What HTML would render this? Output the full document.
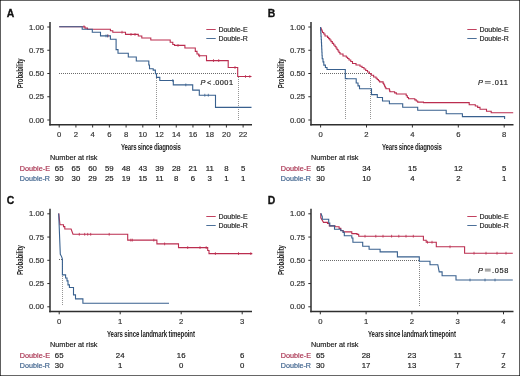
<!DOCTYPE html>
<html><head><meta charset="utf-8"><style>
html,body{margin:0;padding:0;background:#fff;width:520px;height:376px;overflow:hidden;font-family:"Liberation Sans", sans-serif;}
</style></head><body>
<svg width="520" height="376" viewBox="0 0 520 376" style="position:absolute;left:0;top:0;will-change:transform">
<rect x="0" y="0" width="520" height="376" fill="#fff"/>
<g font-family='"Liberation Sans", sans-serif'>
<text x="6.70" y="16.60" font-size="10.4" font-weight="bold" fill="#111" stroke="#111" stroke-width="0.3">A</text>
<path d="M50.00 22.00 V125.40" fill="none" stroke="#2e2e2e" stroke-width="1.50" />
<path d="M49.25 124.70 H252.00" fill="none" stroke="#2e2e2e" stroke-width="1.40" />
<path d="M47.30 27.00 H50.00" fill="none" stroke="#2e2e2e" stroke-width="1.00" />
<text x="44.00" y="29.50" font-size="7.70" text-anchor="end" fill="#333333" stroke="#333333" stroke-width="0.18" >1.00</text>
<path d="M47.30 50.25 H50.00" fill="none" stroke="#2e2e2e" stroke-width="1.00" />
<text x="44.00" y="52.75" font-size="7.70" text-anchor="end" fill="#333333" stroke="#333333" stroke-width="0.18" >0.75</text>
<path d="M47.30 73.50 H50.00" fill="none" stroke="#2e2e2e" stroke-width="1.00" />
<text x="44.00" y="76.00" font-size="7.70" text-anchor="end" fill="#333333" stroke="#333333" stroke-width="0.18" >0.50</text>
<path d="M47.30 96.75 H50.00" fill="none" stroke="#2e2e2e" stroke-width="1.00" />
<text x="44.00" y="99.25" font-size="7.70" text-anchor="end" fill="#333333" stroke="#333333" stroke-width="0.18" >0.25</text>
<path d="M47.30 120.00 H50.00" fill="none" stroke="#2e2e2e" stroke-width="1.00" />
<text x="44.00" y="122.50" font-size="7.70" text-anchor="end" fill="#333333" stroke="#333333" stroke-width="0.18" >0.00</text>
<path d="M59.20 124.70 V127.50" fill="none" stroke="#2e2e2e" stroke-width="1.00" />
<text x="59.20" y="137.00" font-size="7.70" text-anchor="middle" fill="#333333" stroke="#333333" stroke-width="0.18" >0</text>
<path d="M75.92 124.70 V127.50" fill="none" stroke="#2e2e2e" stroke-width="1.00" />
<text x="75.92" y="137.00" font-size="7.70" text-anchor="middle" fill="#333333" stroke="#333333" stroke-width="0.18" >2</text>
<path d="M92.64 124.70 V127.50" fill="none" stroke="#2e2e2e" stroke-width="1.00" />
<text x="92.64" y="137.00" font-size="7.70" text-anchor="middle" fill="#333333" stroke="#333333" stroke-width="0.18" >4</text>
<path d="M109.36 124.70 V127.50" fill="none" stroke="#2e2e2e" stroke-width="1.00" />
<text x="109.36" y="137.00" font-size="7.70" text-anchor="middle" fill="#333333" stroke="#333333" stroke-width="0.18" >6</text>
<path d="M126.08 124.70 V127.50" fill="none" stroke="#2e2e2e" stroke-width="1.00" />
<text x="126.08" y="137.00" font-size="7.70" text-anchor="middle" fill="#333333" stroke="#333333" stroke-width="0.18" >8</text>
<path d="M142.80 124.70 V127.50" fill="none" stroke="#2e2e2e" stroke-width="1.00" />
<text x="142.80" y="137.00" font-size="7.70" text-anchor="middle" fill="#333333" stroke="#333333" stroke-width="0.18" >10</text>
<path d="M159.52 124.70 V127.50" fill="none" stroke="#2e2e2e" stroke-width="1.00" />
<text x="159.52" y="137.00" font-size="7.70" text-anchor="middle" fill="#333333" stroke="#333333" stroke-width="0.18" >12</text>
<path d="M176.24 124.70 V127.50" fill="none" stroke="#2e2e2e" stroke-width="1.00" />
<text x="176.24" y="137.00" font-size="7.70" text-anchor="middle" fill="#333333" stroke="#333333" stroke-width="0.18" >14</text>
<path d="M192.96 124.70 V127.50" fill="none" stroke="#2e2e2e" stroke-width="1.00" />
<text x="192.96" y="137.00" font-size="7.70" text-anchor="middle" fill="#333333" stroke="#333333" stroke-width="0.18" >16</text>
<path d="M209.68 124.70 V127.50" fill="none" stroke="#2e2e2e" stroke-width="1.00" />
<text x="209.68" y="137.00" font-size="7.70" text-anchor="middle" fill="#333333" stroke="#333333" stroke-width="0.18" >18</text>
<path d="M226.40 124.70 V127.50" fill="none" stroke="#2e2e2e" stroke-width="1.00" />
<text x="226.40" y="137.00" font-size="7.70" text-anchor="middle" fill="#333333" stroke="#333333" stroke-width="0.18" >20</text>
<path d="M243.12 124.70 V127.50" fill="none" stroke="#2e2e2e" stroke-width="1.00" />
<text x="243.12" y="137.00" font-size="7.70" text-anchor="middle" fill="#333333" stroke="#333333" stroke-width="0.18" >22</text>
<g transform="translate(151.00 150.30) scale(0.620 1)"><text x="0" y="0" font-size="9.80" font-weight="bold" text-anchor="middle" fill="#262626" textLength="96.77" lengthAdjust="spacing">Years since diagnosis</text></g>
<g transform="translate(23.30 73.30) rotate(-90) scale(0.620 1)"><text x="0" y="0" font-size="9.80" font-weight="bold" text-anchor="middle" fill="#262626" textLength="48.39" lengthAdjust="spacing">Probability</text></g>
<path d="M206.30 29.50 H215.70" fill="none" stroke="#bb2d4f" stroke-width="1.00" stroke-opacity="0.9"/>
<path d="M206.30 38.50 H215.70" fill="none" stroke="#38608e" stroke-width="1.00" stroke-opacity="0.9"/>
<text x="218.40" y="31.80" font-size="7.20" text-anchor="start" fill="#222" stroke="#222" stroke-width="0.18" textLength="29.2" lengthAdjust="spacingAndGlyphs">Double-E</text>
<text x="218.40" y="41.00" font-size="7.20" text-anchor="start" fill="#222" stroke="#222" stroke-width="0.18" textLength="29.4" lengthAdjust="spacingAndGlyphs">Double-R</text>
<text x="50.00" y="160.20" font-size="7.30" text-anchor="start" fill="#222" stroke="#222" stroke-width="0.18" >Number at risk</text>
<text x="19.80" y="170.80" font-size="7.90" text-anchor="start" fill="#a8304f" stroke="#a8304f" stroke-width="0.18" textLength="30.2" lengthAdjust="spacingAndGlyphs">Double-E</text>
<text x="19.80" y="180.80" font-size="7.90" text-anchor="start" fill="#3a5f8a" stroke="#3a5f8a" stroke-width="0.18" textLength="30.2" lengthAdjust="spacingAndGlyphs">Double-R</text>
<text x="59.20" y="170.80" font-size="7.80" text-anchor="middle" fill="#222" stroke="#222" stroke-width="0.18" >65</text>
<text x="59.20" y="180.80" font-size="7.80" text-anchor="middle" fill="#222" stroke="#222" stroke-width="0.18" >30</text>
<text x="75.92" y="170.80" font-size="7.80" text-anchor="middle" fill="#222" stroke="#222" stroke-width="0.18" >65</text>
<text x="75.92" y="180.80" font-size="7.80" text-anchor="middle" fill="#222" stroke="#222" stroke-width="0.18" >30</text>
<text x="92.64" y="170.80" font-size="7.80" text-anchor="middle" fill="#222" stroke="#222" stroke-width="0.18" >60</text>
<text x="92.64" y="180.80" font-size="7.80" text-anchor="middle" fill="#222" stroke="#222" stroke-width="0.18" >29</text>
<text x="109.36" y="170.80" font-size="7.80" text-anchor="middle" fill="#222" stroke="#222" stroke-width="0.18" >59</text>
<text x="109.36" y="180.80" font-size="7.80" text-anchor="middle" fill="#222" stroke="#222" stroke-width="0.18" >25</text>
<text x="126.08" y="170.80" font-size="7.80" text-anchor="middle" fill="#222" stroke="#222" stroke-width="0.18" >48</text>
<text x="126.08" y="180.80" font-size="7.80" text-anchor="middle" fill="#222" stroke="#222" stroke-width="0.18" >19</text>
<text x="142.80" y="170.80" font-size="7.80" text-anchor="middle" fill="#222" stroke="#222" stroke-width="0.18" >43</text>
<text x="142.80" y="180.80" font-size="7.80" text-anchor="middle" fill="#222" stroke="#222" stroke-width="0.18" >15</text>
<text x="159.52" y="170.80" font-size="7.80" text-anchor="middle" fill="#222" stroke="#222" stroke-width="0.18" >39</text>
<text x="159.52" y="180.80" font-size="7.80" text-anchor="middle" fill="#222" stroke="#222" stroke-width="0.18" >11</text>
<text x="176.24" y="170.80" font-size="7.80" text-anchor="middle" fill="#222" stroke="#222" stroke-width="0.18" >28</text>
<text x="176.24" y="180.80" font-size="7.80" text-anchor="middle" fill="#222" stroke="#222" stroke-width="0.18" >8</text>
<text x="192.96" y="170.80" font-size="7.80" text-anchor="middle" fill="#222" stroke="#222" stroke-width="0.18" >21</text>
<text x="192.96" y="180.80" font-size="7.80" text-anchor="middle" fill="#222" stroke="#222" stroke-width="0.18" >6</text>
<text x="209.68" y="170.80" font-size="7.80" text-anchor="middle" fill="#222" stroke="#222" stroke-width="0.18" >11</text>
<text x="209.68" y="180.80" font-size="7.80" text-anchor="middle" fill="#222" stroke="#222" stroke-width="0.18" >3</text>
<text x="226.40" y="170.80" font-size="7.80" text-anchor="middle" fill="#222" stroke="#222" stroke-width="0.18" >8</text>
<text x="226.40" y="180.80" font-size="7.80" text-anchor="middle" fill="#222" stroke="#222" stroke-width="0.18" >1</text>
<text x="243.12" y="170.80" font-size="7.80" text-anchor="middle" fill="#222" stroke="#222" stroke-width="0.18" >5</text>
<text x="243.12" y="180.80" font-size="7.80" text-anchor="middle" fill="#222" stroke="#222" stroke-width="0.18" >1</text>
<text y="84.80" font-size="7.4" fill="#222" stroke="#222" stroke-width="0.18"><tspan x="200.40" font-style="italic">P</tspan><tspan x="206.90">&lt;</tspan></text>
<text x="212.90" y="84.80" font-size="7.4" fill="#222" stroke="#222" stroke-width="0.18" textLength="20.10" lengthAdjust="spacing">.0001</text>
<text x="267.70" y="16.60" font-size="10.4" font-weight="bold" fill="#111" stroke="#111" stroke-width="0.3">B</text>
<path d="M311.00 22.00 V125.40" fill="none" stroke="#2e2e2e" stroke-width="1.50" />
<path d="M310.25 124.70 H513.50" fill="none" stroke="#2e2e2e" stroke-width="1.40" />
<path d="M308.30 27.00 H311.00" fill="none" stroke="#2e2e2e" stroke-width="1.00" />
<text x="305.00" y="29.50" font-size="7.70" text-anchor="end" fill="#333333" stroke="#333333" stroke-width="0.18" >1.00</text>
<path d="M308.30 50.25 H311.00" fill="none" stroke="#2e2e2e" stroke-width="1.00" />
<text x="305.00" y="52.75" font-size="7.70" text-anchor="end" fill="#333333" stroke="#333333" stroke-width="0.18" >0.75</text>
<path d="M308.30 73.50 H311.00" fill="none" stroke="#2e2e2e" stroke-width="1.00" />
<text x="305.00" y="76.00" font-size="7.70" text-anchor="end" fill="#333333" stroke="#333333" stroke-width="0.18" >0.50</text>
<path d="M308.30 96.75 H311.00" fill="none" stroke="#2e2e2e" stroke-width="1.00" />
<text x="305.00" y="99.25" font-size="7.70" text-anchor="end" fill="#333333" stroke="#333333" stroke-width="0.18" >0.25</text>
<path d="M308.30 120.00 H311.00" fill="none" stroke="#2e2e2e" stroke-width="1.00" />
<text x="305.00" y="122.50" font-size="7.70" text-anchor="end" fill="#333333" stroke="#333333" stroke-width="0.18" >0.00</text>
<path d="M320.60 124.70 V127.50" fill="none" stroke="#2e2e2e" stroke-width="1.00" />
<text x="320.60" y="137.00" font-size="7.70" text-anchor="middle" fill="#333333" stroke="#333333" stroke-width="0.18" >0</text>
<path d="M366.50 124.70 V127.50" fill="none" stroke="#2e2e2e" stroke-width="1.00" />
<text x="366.50" y="137.00" font-size="7.70" text-anchor="middle" fill="#333333" stroke="#333333" stroke-width="0.18" >2</text>
<path d="M412.40 124.70 V127.50" fill="none" stroke="#2e2e2e" stroke-width="1.00" />
<text x="412.40" y="137.00" font-size="7.70" text-anchor="middle" fill="#333333" stroke="#333333" stroke-width="0.18" >4</text>
<path d="M458.30 124.70 V127.50" fill="none" stroke="#2e2e2e" stroke-width="1.00" />
<text x="458.30" y="137.00" font-size="7.70" text-anchor="middle" fill="#333333" stroke="#333333" stroke-width="0.18" >6</text>
<path d="M504.20 124.70 V127.50" fill="none" stroke="#2e2e2e" stroke-width="1.00" />
<text x="504.20" y="137.00" font-size="7.70" text-anchor="middle" fill="#333333" stroke="#333333" stroke-width="0.18" >8</text>
<g transform="translate(412.00 150.30) scale(0.620 1)"><text x="0" y="0" font-size="9.80" font-weight="bold" text-anchor="middle" fill="#262626" textLength="96.77" lengthAdjust="spacing">Years since diagnosis</text></g>
<g transform="translate(284.30 73.30) rotate(-90) scale(0.620 1)"><text x="0" y="0" font-size="9.80" font-weight="bold" text-anchor="middle" fill="#262626" textLength="48.39" lengthAdjust="spacing">Probability</text></g>
<path d="M467.30 29.50 H476.70" fill="none" stroke="#bb2d4f" stroke-width="1.00" stroke-opacity="0.9"/>
<path d="M467.30 38.50 H476.70" fill="none" stroke="#38608e" stroke-width="1.00" stroke-opacity="0.9"/>
<text x="479.40" y="31.80" font-size="7.20" text-anchor="start" fill="#222" stroke="#222" stroke-width="0.18" textLength="29.2" lengthAdjust="spacingAndGlyphs">Double-E</text>
<text x="479.40" y="41.00" font-size="7.20" text-anchor="start" fill="#222" stroke="#222" stroke-width="0.18" textLength="29.4" lengthAdjust="spacingAndGlyphs">Double-R</text>
<text x="311.00" y="160.20" font-size="7.30" text-anchor="start" fill="#222" stroke="#222" stroke-width="0.18" >Number at risk</text>
<text x="280.80" y="170.80" font-size="7.90" text-anchor="start" fill="#a8304f" stroke="#a8304f" stroke-width="0.18" textLength="30.2" lengthAdjust="spacingAndGlyphs">Double-E</text>
<text x="280.80" y="180.80" font-size="7.90" text-anchor="start" fill="#3a5f8a" stroke="#3a5f8a" stroke-width="0.18" textLength="30.2" lengthAdjust="spacingAndGlyphs">Double-R</text>
<text x="320.60" y="170.80" font-size="7.80" text-anchor="middle" fill="#222" stroke="#222" stroke-width="0.18" >65</text>
<text x="320.60" y="180.80" font-size="7.80" text-anchor="middle" fill="#222" stroke="#222" stroke-width="0.18" >30</text>
<text x="366.50" y="170.80" font-size="7.80" text-anchor="middle" fill="#222" stroke="#222" stroke-width="0.18" >34</text>
<text x="366.50" y="180.80" font-size="7.80" text-anchor="middle" fill="#222" stroke="#222" stroke-width="0.18" >10</text>
<text x="412.40" y="170.80" font-size="7.80" text-anchor="middle" fill="#222" stroke="#222" stroke-width="0.18" >15</text>
<text x="412.40" y="180.80" font-size="7.80" text-anchor="middle" fill="#222" stroke="#222" stroke-width="0.18" >4</text>
<text x="458.30" y="170.80" font-size="7.80" text-anchor="middle" fill="#222" stroke="#222" stroke-width="0.18" >12</text>
<text x="458.30" y="180.80" font-size="7.80" text-anchor="middle" fill="#222" stroke="#222" stroke-width="0.18" >2</text>
<text x="504.20" y="170.80" font-size="7.80" text-anchor="middle" fill="#222" stroke="#222" stroke-width="0.18" >5</text>
<text x="504.20" y="180.80" font-size="7.80" text-anchor="middle" fill="#222" stroke="#222" stroke-width="0.18" >1</text>
<text y="84.80" font-size="7.4" fill="#222" stroke="#222" stroke-width="0.18"><tspan x="478.00" font-style="italic">P</tspan></text>
<path d="M484.90 81.50 H490.70 M484.90 83.20 H490.70" fill="none" stroke="#444" stroke-width="0.75" />
<text x="492.00" y="84.80" font-size="7.4" fill="#222" stroke="#222" stroke-width="0.18" textLength="15.90" lengthAdjust="spacing">.011</text>
<text x="6.70" y="204.20" font-size="10.4" font-weight="bold" fill="#111" stroke="#111" stroke-width="0.3">C</text>
<path d="M50.00 208.80 V312.20" fill="none" stroke="#2e2e2e" stroke-width="1.50" />
<path d="M49.25 311.50 H252.00" fill="none" stroke="#2e2e2e" stroke-width="1.40" />
<path d="M47.30 213.80 H50.00" fill="none" stroke="#2e2e2e" stroke-width="1.00" />
<text x="44.00" y="216.30" font-size="7.70" text-anchor="end" fill="#333333" stroke="#333333" stroke-width="0.18" >1.00</text>
<path d="M47.30 237.05 H50.00" fill="none" stroke="#2e2e2e" stroke-width="1.00" />
<text x="44.00" y="239.55" font-size="7.70" text-anchor="end" fill="#333333" stroke="#333333" stroke-width="0.18" >0.75</text>
<path d="M47.30 260.30 H50.00" fill="none" stroke="#2e2e2e" stroke-width="1.00" />
<text x="44.00" y="262.80" font-size="7.70" text-anchor="end" fill="#333333" stroke="#333333" stroke-width="0.18" >0.50</text>
<path d="M47.30 283.55 H50.00" fill="none" stroke="#2e2e2e" stroke-width="1.00" />
<text x="44.00" y="286.05" font-size="7.70" text-anchor="end" fill="#333333" stroke="#333333" stroke-width="0.18" >0.25</text>
<path d="M47.30 306.80 H50.00" fill="none" stroke="#2e2e2e" stroke-width="1.00" />
<text x="44.00" y="309.30" font-size="7.70" text-anchor="end" fill="#333333" stroke="#333333" stroke-width="0.18" >0.00</text>
<path d="M59.20 311.50 V314.30" fill="none" stroke="#2e2e2e" stroke-width="1.00" />
<text x="59.20" y="323.80" font-size="7.70" text-anchor="middle" fill="#333333" stroke="#333333" stroke-width="0.18" >0</text>
<path d="M120.20 311.50 V314.30" fill="none" stroke="#2e2e2e" stroke-width="1.00" />
<text x="120.20" y="323.80" font-size="7.70" text-anchor="middle" fill="#333333" stroke="#333333" stroke-width="0.18" >1</text>
<path d="M181.20 311.50 V314.30" fill="none" stroke="#2e2e2e" stroke-width="1.00" />
<text x="181.20" y="323.80" font-size="7.70" text-anchor="middle" fill="#333333" stroke="#333333" stroke-width="0.18" >2</text>
<path d="M242.20 311.50 V314.30" fill="none" stroke="#2e2e2e" stroke-width="1.00" />
<text x="242.20" y="323.80" font-size="7.70" text-anchor="middle" fill="#333333" stroke="#333333" stroke-width="0.18" >3</text>
<g transform="translate(151.00 337.10) scale(0.620 1)"><text x="0" y="0" font-size="9.80" font-weight="bold" text-anchor="middle" fill="#262626" textLength="141.94" lengthAdjust="spacing">Years since landmark timepoint</text></g>
<g transform="translate(23.30 260.10) rotate(-90) scale(0.620 1)"><text x="0" y="0" font-size="9.80" font-weight="bold" text-anchor="middle" fill="#262626" textLength="48.39" lengthAdjust="spacing">Probability</text></g>
<path d="M206.30 216.50 H215.70" fill="none" stroke="#bb2d4f" stroke-width="1.00" stroke-opacity="0.9"/>
<path d="M206.30 225.50 H215.70" fill="none" stroke="#38608e" stroke-width="1.00" stroke-opacity="0.9"/>
<text x="218.40" y="218.60" font-size="7.20" text-anchor="start" fill="#222" stroke="#222" stroke-width="0.18" textLength="29.2" lengthAdjust="spacingAndGlyphs">Double-E</text>
<text x="218.40" y="227.80" font-size="7.20" text-anchor="start" fill="#222" stroke="#222" stroke-width="0.18" textLength="29.4" lengthAdjust="spacingAndGlyphs">Double-R</text>
<text x="50.00" y="347.00" font-size="7.30" text-anchor="start" fill="#222" stroke="#222" stroke-width="0.18" >Number at risk</text>
<text x="19.80" y="357.60" font-size="7.90" text-anchor="start" fill="#a8304f" stroke="#a8304f" stroke-width="0.18" textLength="30.2" lengthAdjust="spacingAndGlyphs">Double-E</text>
<text x="19.80" y="367.60" font-size="7.90" text-anchor="start" fill="#3a5f8a" stroke="#3a5f8a" stroke-width="0.18" textLength="30.2" lengthAdjust="spacingAndGlyphs">Double-R</text>
<text x="59.20" y="357.60" font-size="7.80" text-anchor="middle" fill="#222" stroke="#222" stroke-width="0.18" >65</text>
<text x="59.20" y="367.60" font-size="7.80" text-anchor="middle" fill="#222" stroke="#222" stroke-width="0.18" >30</text>
<text x="120.20" y="357.60" font-size="7.80" text-anchor="middle" fill="#222" stroke="#222" stroke-width="0.18" >24</text>
<text x="120.20" y="367.60" font-size="7.80" text-anchor="middle" fill="#222" stroke="#222" stroke-width="0.18" >1</text>
<text x="181.20" y="357.60" font-size="7.80" text-anchor="middle" fill="#222" stroke="#222" stroke-width="0.18" >16</text>
<text x="181.20" y="367.60" font-size="7.80" text-anchor="middle" fill="#222" stroke="#222" stroke-width="0.18" >0</text>
<text x="242.20" y="357.60" font-size="7.80" text-anchor="middle" fill="#222" stroke="#222" stroke-width="0.18" >6</text>
<text x="242.20" y="367.60" font-size="7.80" text-anchor="middle" fill="#222" stroke="#222" stroke-width="0.18" >0</text>
<text x="267.70" y="204.20" font-size="10.4" font-weight="bold" fill="#111" stroke="#111" stroke-width="0.3">D</text>
<path d="M311.00 208.80 V312.20" fill="none" stroke="#2e2e2e" stroke-width="1.50" />
<path d="M310.25 311.50 H513.50" fill="none" stroke="#2e2e2e" stroke-width="1.40" />
<path d="M308.30 213.80 H311.00" fill="none" stroke="#2e2e2e" stroke-width="1.00" />
<text x="305.00" y="216.30" font-size="7.70" text-anchor="end" fill="#333333" stroke="#333333" stroke-width="0.18" >1.00</text>
<path d="M308.30 237.05 H311.00" fill="none" stroke="#2e2e2e" stroke-width="1.00" />
<text x="305.00" y="239.55" font-size="7.70" text-anchor="end" fill="#333333" stroke="#333333" stroke-width="0.18" >0.75</text>
<path d="M308.30 260.30 H311.00" fill="none" stroke="#2e2e2e" stroke-width="1.00" />
<text x="305.00" y="262.80" font-size="7.70" text-anchor="end" fill="#333333" stroke="#333333" stroke-width="0.18" >0.50</text>
<path d="M308.30 283.55 H311.00" fill="none" stroke="#2e2e2e" stroke-width="1.00" />
<text x="305.00" y="286.05" font-size="7.70" text-anchor="end" fill="#333333" stroke="#333333" stroke-width="0.18" >0.25</text>
<path d="M308.30 306.80 H311.00" fill="none" stroke="#2e2e2e" stroke-width="1.00" />
<text x="305.00" y="309.30" font-size="7.70" text-anchor="end" fill="#333333" stroke="#333333" stroke-width="0.18" >0.00</text>
<path d="M320.30 311.50 V314.30" fill="none" stroke="#2e2e2e" stroke-width="1.00" />
<text x="320.30" y="323.80" font-size="7.70" text-anchor="middle" fill="#333333" stroke="#333333" stroke-width="0.18" >0</text>
<path d="M366.10 311.50 V314.30" fill="none" stroke="#2e2e2e" stroke-width="1.00" />
<text x="366.10" y="323.80" font-size="7.70" text-anchor="middle" fill="#333333" stroke="#333333" stroke-width="0.18" >1</text>
<path d="M411.90 311.50 V314.30" fill="none" stroke="#2e2e2e" stroke-width="1.00" />
<text x="411.90" y="323.80" font-size="7.70" text-anchor="middle" fill="#333333" stroke="#333333" stroke-width="0.18" >2</text>
<path d="M457.70 311.50 V314.30" fill="none" stroke="#2e2e2e" stroke-width="1.00" />
<text x="457.70" y="323.80" font-size="7.70" text-anchor="middle" fill="#333333" stroke="#333333" stroke-width="0.18" >3</text>
<path d="M503.50 311.50 V314.30" fill="none" stroke="#2e2e2e" stroke-width="1.00" />
<text x="503.50" y="323.80" font-size="7.70" text-anchor="middle" fill="#333333" stroke="#333333" stroke-width="0.18" >4</text>
<g transform="translate(412.00 337.10) scale(0.620 1)"><text x="0" y="0" font-size="9.80" font-weight="bold" text-anchor="middle" fill="#262626" textLength="141.94" lengthAdjust="spacing">Years since landmark timepoint</text></g>
<g transform="translate(284.30 260.10) rotate(-90) scale(0.620 1)"><text x="0" y="0" font-size="9.80" font-weight="bold" text-anchor="middle" fill="#262626" textLength="48.39" lengthAdjust="spacing">Probability</text></g>
<path d="M467.30 216.50 H476.70" fill="none" stroke="#bb2d4f" stroke-width="1.00" stroke-opacity="0.9"/>
<path d="M467.30 225.50 H476.70" fill="none" stroke="#38608e" stroke-width="1.00" stroke-opacity="0.9"/>
<text x="479.40" y="218.60" font-size="7.20" text-anchor="start" fill="#222" stroke="#222" stroke-width="0.18" textLength="29.2" lengthAdjust="spacingAndGlyphs">Double-E</text>
<text x="479.40" y="227.80" font-size="7.20" text-anchor="start" fill="#222" stroke="#222" stroke-width="0.18" textLength="29.4" lengthAdjust="spacingAndGlyphs">Double-R</text>
<text x="311.00" y="347.00" font-size="7.30" text-anchor="start" fill="#222" stroke="#222" stroke-width="0.18" >Number at risk</text>
<text x="280.80" y="357.60" font-size="7.90" text-anchor="start" fill="#a8304f" stroke="#a8304f" stroke-width="0.18" textLength="30.2" lengthAdjust="spacingAndGlyphs">Double-E</text>
<text x="280.80" y="367.60" font-size="7.90" text-anchor="start" fill="#3a5f8a" stroke="#3a5f8a" stroke-width="0.18" textLength="30.2" lengthAdjust="spacingAndGlyphs">Double-R</text>
<text x="320.30" y="357.60" font-size="7.80" text-anchor="middle" fill="#222" stroke="#222" stroke-width="0.18" >65</text>
<text x="320.30" y="367.60" font-size="7.80" text-anchor="middle" fill="#222" stroke="#222" stroke-width="0.18" >30</text>
<text x="366.10" y="357.60" font-size="7.80" text-anchor="middle" fill="#222" stroke="#222" stroke-width="0.18" >28</text>
<text x="366.10" y="367.60" font-size="7.80" text-anchor="middle" fill="#222" stroke="#222" stroke-width="0.18" >17</text>
<text x="411.90" y="357.60" font-size="7.80" text-anchor="middle" fill="#222" stroke="#222" stroke-width="0.18" >23</text>
<text x="411.90" y="367.60" font-size="7.80" text-anchor="middle" fill="#222" stroke="#222" stroke-width="0.18" >13</text>
<text x="457.70" y="357.60" font-size="7.80" text-anchor="middle" fill="#222" stroke="#222" stroke-width="0.18" >11</text>
<text x="457.70" y="367.60" font-size="7.80" text-anchor="middle" fill="#222" stroke="#222" stroke-width="0.18" >7</text>
<text x="503.50" y="357.60" font-size="7.80" text-anchor="middle" fill="#222" stroke="#222" stroke-width="0.18" >7</text>
<text x="503.50" y="367.60" font-size="7.80" text-anchor="middle" fill="#222" stroke="#222" stroke-width="0.18" >2</text>
<text y="272.50" font-size="7.4" fill="#222" stroke="#222" stroke-width="0.18"><tspan x="478.00" font-style="italic">P</tspan></text>
<path d="M484.90 269.20 H490.70 M484.90 270.90 H490.70" fill="none" stroke="#444" stroke-width="0.75" />
<text x="492.00" y="272.50" font-size="7.4" fill="#222" stroke="#222" stroke-width="0.18" textLength="16.30" lengthAdjust="spacing">.058</text>
<path d="M59 73.5 H239" fill="none" stroke="#444" stroke-width="0.80" stroke-dasharray="1 1"/>
<path d="M156.5 74 V120 M238.5 77 V120" fill="none" stroke="#7a7a7a" stroke-width="0.80" stroke-dasharray="1 1"/>
<path d="M320 73.5 H371" fill="none" stroke="#444" stroke-width="0.80" stroke-dasharray="1 1"/>
<path d="M345.5 74 V120 M370.5 74 V120" fill="none" stroke="#7a7a7a" stroke-width="0.80" stroke-dasharray="1 1"/>
<path d="M59 259.5 H62.5" fill="none" stroke="#444" stroke-width="0.80" stroke-dasharray="1 1"/>
<path d="M62.5 260 V306" fill="none" stroke="#7a7a7a" stroke-width="0.80" stroke-dasharray="1 1"/>
<path d="M320 260.5 H419" fill="none" stroke="#444" stroke-width="0.80" stroke-dasharray="1 1"/>
<path d="M419.5 261 V306" fill="none" stroke="#666" stroke-width="0.80" stroke-dasharray="1 1"/>
<path d="M59.2 26.7 H85 V28.1 H87.5 V29.3 H110.4 V30.8 H112.8 V32.2 H125.5 V34.4 H138.3 V36 H141.8 V38 H150.8 V40 H170.2 V42.3 H172.8 V44.5 H174.5 V45.4 H184.9 V48 H195.3 V51.4 H197 V54 H198.7 V55.8 H206.5 V60.6 H228.2 V67.5 H237.7 V76.5 H251.5" fill="none" stroke="#bb2d4f" stroke-width="1.10" />
<path d="M59.2 26.7 H82.2 V29.3 H92.3 V32.3 H100.5 V35.9 H110.4 V39.2 H116.1 V49.6 H118 V53.3 H128.3 V57 H136.3 V61 H148.8 V65 H149.5 V68.7 H153.2 V70.1 H155.4 V73.8 H156.5 V77.4 H159.8 V80.5 H173.3 V84.9 H192.7 V90.1 H199.3 V95.2 H215.5 V107.4 H251.5" fill="none" stroke="#38608e" stroke-width="1.10" />
<path d="M84.00 25.30 V28.10 M108.00 34.50 V37.30 M122.00 30.80 V33.60 M131.00 33.00 V35.80 M135.00 33.00 V35.80 M178.00 44.00 V46.80 M199.60 54.40 V57.20 M213.50 59.20 V62.00 M218.70 59.20 V62.00 M235.00 66.10 V68.90 M245.50 75.10 V77.90 M249.80 75.10 V77.90 " fill="none" stroke="#bb2d4f" stroke-width="0.80" />
<path d="M106.00 34.50 V37.30 M107.50 34.50 V37.30 M172.80 79.10 V81.90 M185.80 83.50 V86.30 M204.80 93.80 V96.60 M208.30 93.80 V96.60 " fill="none" stroke="#38608e" stroke-width="0.80" />
<path d="M320.60 27.10 H320.60 V28.40 H321.23 V29.70 H321.87 V31.00 H322.50 H322.50 V32.50 H323.75 V34.00 H325.00 H325.00 V36.00 H327.50 H327.50 V37.33 H328.67 V38.67 H329.83 V40.00 H331.00 H331.00 V41.67 H332.33 V43.33 H333.67 V45.00 H335.00 H335.00 V46.50 H336.00 V48.00 H337.00 V49.50 H338.00 H338.00 V51.00 H339.00 V52.50 H340.00 H340.00 V54.00 H343.00 H343.00 V56.00 H346.30 H346.30 V57.25 H347.65 V58.50 H349.00 H349.00 V60.00 H350.75 V61.50 H352.50 H352.50 V63.50 H356.00 H356.00 V65.00 H360.00 H360.00 V66.25 H362.00 V67.50 H364.00 H364.00 V69.00 H365.75 V70.50 H367.50 H367.50 V72.00 H369.40 V73.50 H371.30 H371.30 V75.25 H373.65 V77.00 H376.00 H376.00 V78.27 H377.20 V79.53 H378.40 V80.80 H379.60 H379.60 V81.90 H383.10 H383.10 V83.35 H383.83 V84.80 H384.55 V86.25 H385.27 V87.70 H386.00 H386.00 V88.80 H389.40 H389.40 V90.00 H389.70 V91.20 H390.00 H390.00 V91.70 H394.60 H394.60 V92.85 H396.35 V94.00 H398.10 H406.20 H406.20 V95.75 H407.35 V97.50 H408.50 H408.50 V98.70 H414.80 H414.80 V99.85 H416.25 V101.00 H417.70 H417.70 V102.10 H423.50 H423.50 V102.60 H424.60 H469.20 H469.20 V104.70 H475.30 H475.30 V106.05 H477.65 V107.40 H480.00 H480.00 V109.30 H486.50 H486.50 V111.20 H491.20 H491.20 V112.70 H504.20 H513.20" fill="none" stroke="#bb2d4f" stroke-width="1.10" />
<path d="M320.60 27.10 H320.60 V30.20 H320.80 V33.30 H321.00 V36.40 H321.20 V39.50 H321.40 H321.40 V42.70 H321.56 V45.90 H321.72 V49.10 H321.88 V52.30 H322.04 V55.50 H322.20 H322.20 V58.70 H323.00 V61.90 H323.80 H323.80 V65.10 H325.40 H325.40 V67.50 H327.00 H327.00 V69.50 H328.60 H345.30 V74.60 H345.30 V78.60 H346.90 H346.90 V78.80 H356.20 H356.20 V83.00 H358.00 H358.00 V85.90 H359.50 V88.80 H361.00 H371.50 V94.60 H377.30 V97.50 H382.50 V101.00 H389.40 V103.80 H402.70 V107.30 H417.70 V110.30 H446.20 V113.80 H462.40 V116.60 H504.60 V118.90" fill="none" stroke="#38608e" stroke-width="1.10" />
<path d="M58.7 213.4 L60 224.8 H63.5 V226.6 H64.8 V229 H71.1 L73 234.3 H127.7 V240.1 H156.9 V243.9 H178.5 V247.6 H207.7 V250.5 H209 V253.6 H252.3" fill="none" stroke="#bb2d4f" stroke-width="1.10" />
<path d="M58.7 213.4 L60.3 254.3 L61.6 256.6 L62.4 259 V274.9 H65.6 V278 H67 V280.9 H68 V284.9 H69.4 V287.5 H73.5 V294.9 H75.5 V298.9 H82.9 V303.2 H169" fill="none" stroke="#38608e" stroke-width="1.10" />
<path d="M79.30 232.90 V235.70 M84.70 232.90 V235.70 M87.70 232.90 V235.70 M90.70 232.90 V235.70 M109.20 232.90 V235.70 M130.80 238.70 V241.50 M132.30 238.70 V241.50 M153.80 238.70 V241.50 M164.60 242.50 V245.30 M187.70 246.20 V249.00 M200.00 246.20 V249.00 M206.20 246.20 V249.00 M215.40 252.20 V255.00 M238.50 252.20 V255.00 M250.80 252.20 V255.00 " fill="none" stroke="#bb2d4f" stroke-width="0.80" />
<path d="M320.8 213.2 V217.8 L323.5 222.4 H327.5 V223.5 H329.3 V225.9 H335 V226.8 H339.1 V228.4 H340.8 V230.5 H343.1 V231.9 H351.8 V233.6 H357 V234.4 H358.7 V236.2 H423.4 V240.2 H426.2 V242.2 H436.3 V246.8 H464.6 V253.2 H512.8" fill="none" stroke="#bb2d4f" stroke-width="1.10" />
<path d="M320.8 213.2 L322.3 216.7 V219.2 H328.7 V223 H329.8 V225.9 H334.5 V229.3 H340.8 V230.8 H343.1 V232.4 H344.3 V235.7 H351.8 V238 H352.9 V242.3 H362.7 V246.2 H369.1 V249.2 H380.1 V251.9 H397.4 V256.9 H419.3 V261.2 H430 V264.7 H437.8 L439.2 271.9 H442.1 V275.7 H456 V280 H512.8" fill="none" stroke="#38608e" stroke-width="1.10" />
<path d="M365.00 234.80 V237.60 M375.80 234.80 V237.60 M383.00 234.80 V237.60 M391.60 234.80 V237.60 M398.80 234.80 V237.60 M406.00 234.80 V237.60 M413.30 234.80 V237.60 M427.50 240.80 V243.60 M432.00 240.80 V243.60 M450.00 245.40 V248.20 M474.00 251.80 V254.60 M486.00 251.80 V254.60 M497.00 251.80 V254.60 M506.00 251.80 V254.60 " fill="none" stroke="#bb2d4f" stroke-width="0.80" />
<path d="M470.00 278.60 V281.40 M485.00 278.60 V281.40 M495.00 278.60 V281.40 " fill="none" stroke="#38608e" stroke-width="0.80" />
</g>
<path d="M0 0.5 H520 M0 375.5 H520" stroke="#000" stroke-opacity="0.6" stroke-width="1"/>
<path d="M0.5 0 V376 M519.5 0 V376" stroke="#000" stroke-opacity="0.63" stroke-width="1"/>
</svg>
</body></html>
